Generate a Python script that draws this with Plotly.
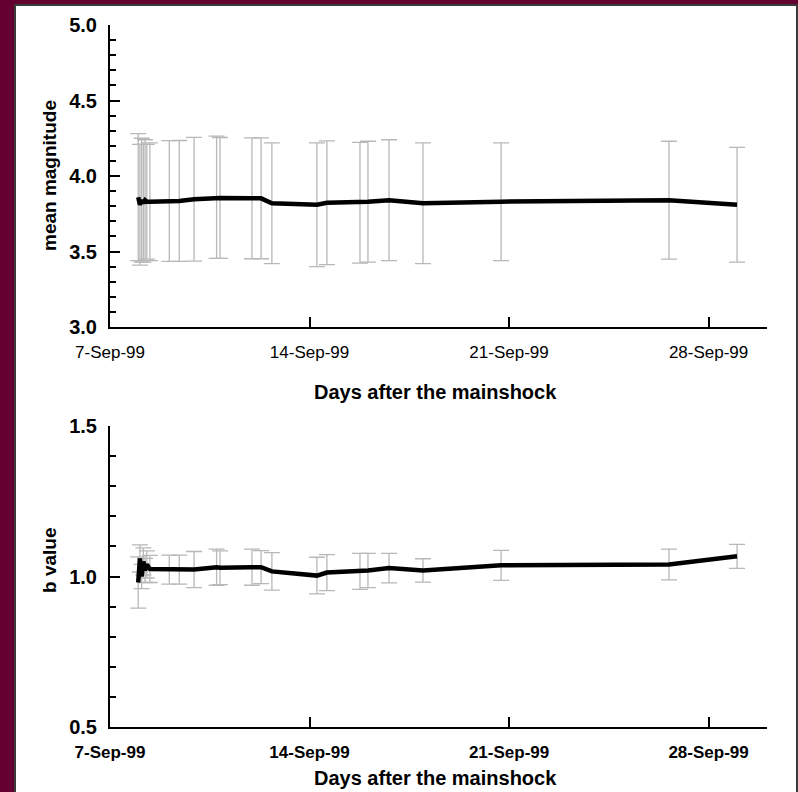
import plotly.graph_objects as go

# ---------------- data ----------------
days = [0.99, 1.05, 1.11, 1.17, 1.23, 1.29, 1.40, 2.08, 2.43, 2.95, 3.74, 3.86,
        4.98, 5.30, 5.68, 7.26, 7.61, 8.77, 9.05, 9.79, 10.98, 13.72, 19.61, 22.00]
mean_mag = [3.86, 3.81, 3.84, 3.82, 3.84, 3.83, 3.83, 3.834, 3.835, 3.846, 3.859, 3.855,
            3.852, 3.852, 3.820, 3.810, 3.823, 3.823, 3.830, 3.840, 3.820, 3.830, 3.840, 3.810]
mag_err = [0.42, 0.40, 0.41, 0.39, 0.40, 0.38, 0.39, 0.40, 0.40, 0.41, 0.405, 0.40,
           0.40, 0.40, 0.40, 0.41, 0.41, 0.40, 0.40, 0.40, 0.40, 0.39, 0.39, 0.38]
b_value = [0.98, 1.06, 1.00, 1.05, 1.02, 1.04, 1.025, 1.023, 1.023, 1.023, 1.031, 1.029,
           1.031, 1.031, 1.017, 1.003, 1.013, 1.017, 1.020, 1.028, 1.020, 1.037, 1.040, 1.067]
b_err = [0.085, 0.045, 0.04, 0.045, 0.04, 0.045, 0.045, 0.048, 0.048, 0.06, 0.06, 0.056,
         0.06, 0.055, 0.062, 0.061, 0.06, 0.06, 0.057, 0.049, 0.039, 0.05, 0.051, 0.04]

tick_days = [0, 7, 14, 21]
tick_labels = ["7-Sep-99", "14-Sep-99", "21-Sep-99", "28-Sep-99"]

W, H = 798, 792

def px_x(x):
    return x / W

def px_y(y):
    return 1 - y / H

fig = go.Figure()

err_color = "#b8b8b8"

# top panel
fig.add_trace(go.Scatter(x=days, y=mean_mag, mode="markers",
                         marker=dict(size=1, color="rgba(0,0,0,0)"),
                         error_y=dict(type="data", array=mag_err, visible=True,
                                      color=err_color, thickness=1.3, width=8),
                         xaxis="x", yaxis="y", showlegend=False, hoverinfo="skip"))
fig.add_trace(go.Scatter(x=days, y=mean_mag, mode="lines",
                         line=dict(color="black", width=4.5),
                         xaxis="x", yaxis="y", showlegend=False))
# bottom panel
fig.add_trace(go.Scatter(x=days, y=b_value, mode="markers",
                         marker=dict(size=1, color="rgba(0,0,0,0)"),
                         error_y=dict(type="data", array=b_err, visible=True,
                                      color=err_color, thickness=1.3, width=8),
                         xaxis="x2", yaxis="y2", showlegend=False, hoverinfo="skip"))
fig.add_trace(go.Scatter(x=days, y=b_value, mode="lines",
                         line=dict(color="black", width=4.5),
                         xaxis="x2", yaxis="y2", showlegend=False))

xdom = [px_x(110), px_x(767)]
xrange_ = [0, 23.05]

font_fam = "Liberation Sans, Arial"

common_x = dict(range=xrange_, domain=xdom, showline=True, linecolor="black", linewidth=2,
                ticks="inside", ticklen=10, tickwidth=2, tickcolor="black",
                tickvals=tick_days, ticktext=tick_labels, showgrid=False, zeroline=False,
                automargin=False, ticklabelstandoff=9)
common_y = dict(showline=True, linecolor="black", linewidth=2,
                ticks="inside", ticklen=10, tickwidth=2, tickcolor="black",
                dtick=0.5, tickformat=".1f", showgrid=False, zeroline=False,
                tickfont=dict(family=font_fam, size=20, color="black", weight="bold"),
                minor=dict(dtick=0.1, ticks="inside", ticklen=6, tickwidth=2, tickcolor="black"),
                automargin=False, ticklabelstandoff=7)

fig.update_layout(
    width=W, height=H,
    margin=dict(l=0, r=0, t=0, b=0, pad=0, autoexpand=False),
    paper_bgcolor="#64002f",
    plot_bgcolor="white",
    xaxis=dict(**common_x, anchor="y",
               tickfont=dict(family=font_fam, size=17, color="black")),
    yaxis=dict(**common_y, anchor="x", range=[3.0, 5.0],
               domain=[px_y(327), px_y(25)]),
    xaxis2=dict(**common_x, anchor="y2",
                tickfont=dict(family=font_fam, size=17, color="black", weight="bold")),
    yaxis2=dict(**common_y, anchor="x2", range=[0.5, 1.5],
                domain=[px_y(727), px_y(426)]),
    shapes=[
        dict(type="rect", xref="paper", yref="paper", x0=px_x(15), x1=px_x(797),
             y0=px_y(793), y1=px_y(5), fillcolor="white",
             line=dict(color="#3a3a3a", width=2), layer="below"),
    ],
    annotations=[
        dict(text="mean magnitude", xref="paper", yref="paper", x=px_x(49), y=px_y(176),
             textangle=-90, showarrow=False, xanchor="center", yanchor="middle",
             font=dict(family=font_fam, size=19, color="black", weight="bold")),
        dict(text="b value", xref="paper", yref="paper", x=px_x(49), y=px_y(561),
             textangle=-90, showarrow=False, xanchor="center", yanchor="middle",
             font=dict(family=font_fam, size=19, color="black", weight="bold")),
        dict(text="Days after the mainshock", xref="paper", yref="paper", x=px_x(435), y=px_y(392),
             showarrow=False, xanchor="center", yanchor="middle",
             font=dict(family=font_fam, size=20, color="black", weight="bold")),
        dict(text="Days after the mainshock", xref="paper", yref="paper", x=px_x(435), y=px_y(778),
             showarrow=False, xanchor="center", yanchor="middle",
             font=dict(family=font_fam, size=20, color="black", weight="bold")),
    ],
)

fig.write_html("out.html", config={"displayModeBar": False},
               post_script="document.body.style.margin='0';")
